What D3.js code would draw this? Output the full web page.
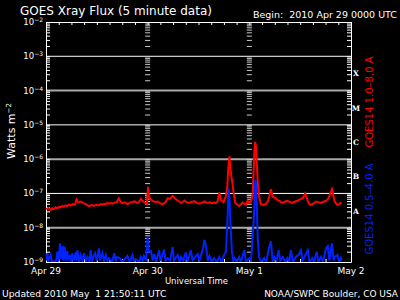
<!DOCTYPE html>
<html>
<head>
<meta charset="utf-8">
<script src="https://cdn.jsdelivr.net/npm/d3@7"></script>
<style>
    body { margin: 0; background: #000; }
    #chart { width: 400px; height: 300px; }
    text { font-family: "DejaVu Sans", "Liberation Sans", sans-serif; white-space: pre; }
</style>
</head>
<body>
<div id="chart"></div>
<script>

// tick labels / categories
const dayLabels = ["Apr 29", "Apr 30", "May 1", "May 2"];
const dayHours = [0, 24, 48, 72];
const decades = [-9, -8, -7, -6, -5, -4, -3, -2];
const flareClasses = [["A", 1e-8], ["B", 1e-7], ["C", 1e-6], ["M", 1e-5], ["X", 1e-4]];

// GOES14 1.0-8.0 A  [hours since Apr 29 00 UT, W/m2]
const longChannel = [
    [0, 3.5e-8], [0.6, 3.8e-8], [1.1, 3.3e-8], [1.5, 3.7e-8], [1.9, 3.5e-8], [2.3, 3.9e-8], [2.7, 3.7e-8],
    [3.1, 4.1e-8], [3.5, 3.9e-8], [3.9, 4.3e-8], [4.2, 4.1e-8], [4.6, 4.5e-8], [5.0, 4.3e-8], [5.4, 4.7e-8],
    [5.8, 4.5e-8], [6.3, 4.9e-8], [6.8, 4.6e-8], [7.2, 6.7e-8], [7.6, 5.5e-8], [8.2, 5.8e-8], [8.8, 5.2e-8],
    [9.4, 4.9e-8], [9.8, 4.5e-8], [10.2, 4.2e-8], [10.7, 4.6e-8], [11.3, 4.4e-8], [12.1, 4.7e-8], [12.5, 4.5e-8],
    [12.9, 4.9e-8], [13.3, 4.7e-8], [13.7, 5.0e-8], [14.1, 4.8e-8], [14.5, 5.3e-8], [14.9, 5.0e-8], [15.3, 5.2e-8],
    [15.7, 5.0e-8], [16.1, 5.4e-8], [16.7, 5.5e-8], [17.2, 7.2e-8], [17.6, 5.8e-8], [18.0, 5.2e-8], [18.6, 5.5e-8],
    [19.2, 4.9e-8], [19.8, 5.3e-8], [20.4, 5.6e-8], [20.9, 5.9e-8], [21.6, 5.2e-8], [22.0, 5.6e-8], [22.4, 6.9e-8],
    [23.1, 5.6e-8], [23.8, 4.9e-8], [24.1, 1.56e-7], [24.4, 7.2e-8], [24.8, 6.6e-8], [25.2, 6.1e-8], [25.8, 5.6e-8],
    [26.4, 5.8e-8], [27.0, 5.1e-8], [27.5, 4.8e-8], [28.2, 5.5e-8], [28.7, 7.2e-8], [29.3, 7.0e-8], [29.9, 8.4e-8],
    [30.5, 7.0e-8], [31.1, 6.2e-8], [31.5, 5.7e-8], [31.9, 5.3e-8], [32.3, 5.7e-8], [32.7, 6.2e-8], [33.2, 5.5e-8],
    [33.8, 5.3e-8], [34.4, 5.7e-8], [35.0, 5.9e-8], [35.6, 5.3e-8], [36.2, 5.0e-8], [36.8, 5.4e-8], [37.4, 5.9e-8],
    [38.0, 5.3e-8], [38.6, 5.5e-8], [39.2, 5.2e-8], [39.7, 5.4e-8], [40.1, 5.2e-8], [40.5, 5.8e-8], [40.9, 1.07e-7],
    [41.3, 6.5e-8], [41.9, 5.5e-8], [42.5, 8.5e-8], [42.8, 1.6e-7], [43.0, 4.7e-7], [43.3, 1.2e-6], [43.5, 5.9e-7],
    [43.7, 3.6e-7], [43.9, 2.5e-7], [44.3, 1.0e-7], [44.7, 5.3e-8], [45.2, 4.6e-8], [45.6, 4.3e-8], [46.0, 4.8e-8],
    [46.4, 5.4e-8], [46.8, 5.0e-8], [47.2, 4.7e-8], [47.6, 6.1e-8], [48.0, 5.4e-8], [48.4, 5.8e-8], [48.8, 9.0e-8],
    [48.9, 2.0e-7], [49.2, 1.8e-6], [49.4, 3.2e-6], [49.6, 2.2e-6], [49.7, 1.15e-6], [50.0, 2.0e-7], [50.3, 8.0e-8],
    [50.7, 4.9e-8], [51.3, 4.6e-8], [51.9, 4.9e-8], [52.4, 6.0e-8], [52.7, 8.0e-8], [53.1, 1.33e-7], [53.5, 8.0e-8],
    [54.3, 7.2e-8], [54.7, 6.4e-8], [55.1, 6.1e-8], [55.5, 5.6e-8], [55.9, 5.3e-8], [56.5, 5.8e-8], [57.0, 6.1e-8],
    [57.6, 5.6e-8], [58.2, 5.3e-8], [58.8, 5.8e-8], [59.4, 6.1e-8], [60.2, 7.0e-8], [60.6, 7.2e-8], [61.2, 1.0e-7],
    [61.8, 6.1e-8], [62.1, 5.0e-8], [62.5, 4.6e-8], [63.1, 5.0e-8], [63.7, 5.8e-8], [64.3, 5.5e-8], [64.9, 5.3e-8],
    [65.5, 5.7e-8], [66.1, 6.1e-8], [66.5, 6.8e-8], [66.9, 8.4e-8], [67.5, 1.33e-7], [68.1, 6.1e-8], [68.5, 5.0e-8],
    [68.8, 4.6e-8], [69.2, 4.8e-8], [69.6, 5.3e-8], [69.8, 5.2e-8]
];

// GOES14 0.5-4.0 A  [hours since Apr 29 00 UT, W/m2]
const shortChannel = [
    [0.0, 1.1e-9], [0.3, 1.8e-9], [0.6, 1.1e-9], [1.1, 1.6e-9], [1.4, 1.0e-9], [2.4, 1.1e-9], [2.7, 2.0e-9],
    [3.0, 1.1e-9], [3.3, 3.5e-9], [3.6, 1.2e-9], [3.9, 2.9e-9], [4.1, 1.1e-9], [4.4, 2.8e-9], [4.7, 1.1e-9],
    [5.0, 2.1e-9], [5.3, 1.1e-9], [5.7, 1.6e-9], [6.0, 1.0e-9], [6.2, 1.8e-9], [6.6, 1.1e-9], [7.0, 1.9e-9],
    [7.2, 1.1e-9], [7.4, 2.2e-9], [7.8, 1.0e-9], [8.2, 1.6e-9], [8.6, 1.1e-9], [9.0, 1.8e-9], [9.4, 1.1e-9],
    [9.8, 1.4e-9], [10.3, 1.0e-9], [10.5, 2.2e-9], [10.9, 1.1e-9], [11.3, 1.5e-9], [11.6, 1.8e-9], [12.0, 1.1e-9],
    [12.5, 2.5e-9], [12.8, 1.1e-9], [13.3, 1.8e-9], [13.7, 1.1e-9], [14.1, 1.6e-9], [14.5, 1.1e-9], [14.9, 1.3e-9],
    [15.6, 1.0e-9], [16.1, 1.8e-9], [16.5, 1.1e-9], [16.8, 1.4e-9], [17.4, 1.3e-9], [18.0, 1.0e-9], [19.2, 1.5e-9],
    [19.8, 1.0e-9], [20.4, 1.6e-9], [20.8, 1.0e-9], [21.2, 1.2e-9], [22.0, 1.0e-9], [22.4, 1.4e-9], [22.8, 1.1e-9],
    [23.1, 1.5e-9], [23.6, 1.1e-9], [24.0, 5.5e-9], [24.3, 2.0e-9], [24.8, 2.1e-9], [25.2, 1.1e-9], [25.6, 1.7e-9],
    [26.0, 1.0e-9], [26.7, 2.2e-9], [27.0, 1.1e-9], [27.9, 2.3e-9], [28.2, 1.1e-9], [28.7, 1.3e-9], [29.3, 1.1e-9],
    [29.9, 2.7e-9], [30.2, 1.1e-9], [31.1, 1.6e-9], [31.6, 1.0e-9], [31.9, 1.4e-9], [32.4, 1.1e-9], [33.0, 1.9e-9],
    [33.4, 1.0e-9], [34.2, 2.2e-9], [34.6, 1.1e-9], [35.8, 1.7e-9], [36.2, 1.1e-9], [37.0, 2.3e-9], [37.4, 4.4e-9],
    [37.8, 2.8e-9], [38.2, 1.1e-9], [38.6, 1.5e-9], [39.2, 1.0e-9], [39.7, 1.3e-9], [40.3, 1.0e-9], [40.9, 1.4e-9],
    [41.5, 1.0e-9], [42.1, 1.7e-9], [42.5, 2.0e-9], [42.9, 2.6e-8], [43.1, 1.4e-7], [43.3, 8.0e-8], [43.5, 1.7e-8],
    [43.9, 1.9e-9], [44.2, 1.1e-9], [44.5, 1.3e-9], [45.0, 1.0e-9], [45.6, 1.4e-9], [46.0, 1.0e-9], [46.8, 2.2e-9],
    [47.2, 1.0e-9], [48.0, 1.3e-9], [48.4, 1.1e-9], [48.8, 5.5e-9], [49.2, 4.0e-8], [49.4, 2.5e-7], [49.6, 1.8e-7],
    [49.7, 8.0e-8], [50.0, 4.4e-9], [50.3, 1.4e-9], [50.8, 1.0e-9], [51.5, 1.3e-9], [52.0, 1.0e-9], [52.7, 2.8e-9],
    [53.1, 4.0e-9], [53.5, 1.1e-9], [53.9, 1.4e-9], [54.4, 1.1e-9], [54.9, 2.2e-9], [55.3, 1.1e-9], [55.9, 1.4e-9],
    [56.5, 1.0e-9], [57.0, 1.3e-9], [57.4, 1.0e-9], [57.8, 2.2e-9], [58.3, 1.0e-9], [59.0, 1.4e-9], [59.8, 1.7e-9],
    [60.2, 2.2e-9], [60.6, 1.1e-9], [61.0, 1.4e-9], [61.8, 2.2e-9], [62.2, 1.0e-9], [62.9, 1.3e-9], [63.3, 1.0e-9],
    [63.9, 2.0e-9], [64.3, 1.0e-9], [64.9, 1.4e-9], [65.4, 1.0e-9], [66.1, 2.5e-9], [66.5, 2.9e-9], [66.9, 1.1e-9],
    [67.5, 3.5e-9], [67.9, 1.1e-9], [68.1, 1.4e-9], [68.8, 1.6e-9], [69.2, 1.0e-9], [69.6, 1.3e-9], [69.8, 1.1e-9]
];


class XrayFlux {

    constructor(parentElement) {
        this.parentElement = parentElement;
        this.initVis();
    }

    initVis() {
        let vis = this;

        vis.margin = {top: 22, right: 49, bottom: 38, left: 46};
        vis.width = 400 - vis.margin.left - vis.margin.right;
        vis.height = 300 - vis.margin.top - vis.margin.bottom;

        vis.root = d3.select("#" + vis.parentElement).append("svg")
            .attr("width", 400)
            .attr("height", 300)
            .style("background", "#000");

        vis.svg = vis.root.append("g")
            .attr("transform", `translate(${vis.margin.left},${vis.margin.top})`);

        // scales: hours since start, log flux
        vis.x = d3.scaleLinear().domain([0, 72]).range([0, vis.width]);
        vis.y = d3.scaleLog().domain([1e-9, 1e-2]).range([vis.height, 0]);

        vis.svg.append("clipPath").attr("id", "plot-clip")
            .append("rect").attr("width", vis.width).attr("height", vis.height);

        vis.updateVis();
    }

    updateVis() {
        let vis = this;

        // minor log ticks 1..9 in each decade
        let minor = [];
        decades.slice(0, -1).forEach(d => d3.range(1, 10).forEach(m => minor.push(m * Math.pow(10, d))));
        minor.push(1e-2);

        // horizontal decade lines, alternating white / gray
        vis.svg.selectAll(".decade-line")
            .data(decades.slice(1, -1))
            .enter().append("line")
            .attr("class", "decade-line")
            .attr("x1", 0).attr("x2", vis.width)
            .attr("y1", d => vis.y(Math.pow(10, d)))
            .attr("y2", d => vis.y(Math.pow(10, d)))
            .attr("stroke", d => d % 2 === 0 ? "#a8a8a8" : "#ffffff")
            .attr("stroke-width", d => d % 2 === 0 ? 2 : 1);

        // tick columns at the day boundaries
        dayHours.slice(1, -1).forEach(h => {
            vis.svg.append("g")
                .attr("transform", `translate(${vis.x(h) - 2.5},0)`)
                .call(d3.axisRight(vis.y).tickValues(minor).tickSize(5).tickFormat(""))
                .call(g => g.select(".domain").remove())
                .selectAll("line").attr("stroke", "#cccccc");
        });

        // frame axes
        let axisStyle = g => {
            g.selectAll("path, line").attr("stroke", "#ffffff");
            g.selectAll("text").remove();
        };
        let hourTicks = d3.range(0, 73, 3);

        vis.svg.append("g")
            .call(d3.axisLeft(vis.y).tickValues(minor).tickSizeInner(-4).tickSizeOuter(0))
            .call(axisStyle);
        vis.svg.append("g")
            .attr("transform", `translate(${vis.width},0)`)
            .call(d3.axisRight(vis.y).tickValues(minor).tickSizeInner(-4).tickSizeOuter(0))
            .call(axisStyle);
        vis.svg.append("g")
            .call(d3.axisBottom(vis.x).tickValues(hourTicks).tickSizeInner(3).tickSizeOuter(0))
            .call(axisStyle);
        vis.svg.append("g")
            .attr("transform", `translate(0,${vis.height})`)
            .call(d3.axisTop(vis.x).tickValues(hourTicks).tickSizeInner(3).tickSizeOuter(0))
            .call(axisStyle);

        // data lines
        let line = d3.line()
            .x(d => vis.x(d[0]))
            .y(d => vis.y(d[1]));

        let plot = vis.svg.append("g").attr("clip-path", "url(#plot-clip)");

        plot.append("path")
            .datum(longChannel)
            .attr("fill", "none")
            .attr("stroke", "#ff0000")
            .attr("stroke-width", 2)
            .attr("d", line);

        plot.append("path")
            .datum(shortChannel)
            .attr("fill", "none")
            .attr("stroke", "#0022ff")
            .attr("stroke-width", 2)
            .attr("d", line);

        // y tick labels 10^n
        let yLab = vis.svg.selectAll(".ylab")
            .data(decades)
            .enter().append("text")
            .attr("class", "ylab")
            .attr("x", -3)
            .attr("y", d => vis.y(Math.pow(10, d)) + 3)
            .attr("text-anchor", "end")
            .attr("fill", "#ffffff")
            .style("font-size", "8.5px");
        yLab.append("tspan").text("10");
        yLab.append("tspan").attr("dy", -3).style("font-size", "6px").text(d => "\u2212" + (-d));

        // flare class letters
        vis.svg.selectAll(".flare")
            .data(flareClasses)
            .enter().append("text")
            .attr("class", "flare")
            .attr("x", vis.width + 5)
            .attr("y", d => vis.y(d[1] * Math.sqrt(10)) + 3)
            .attr("text-anchor", "middle")
            .attr("fill", "#ffffff")
            .style("font-family", "'DejaVu Serif', serif")
            .style("font-weight", "bold")
            .style("font-size", "7.5px")
            .text(d => d[0]);

        // day labels
        vis.svg.selectAll(".day")
            .data(dayHours)
            .enter().append("text")
            .attr("class", "day")
            .attr("x", d => vis.x(d))
            .attr("y", vis.height + 11.5)
            .attr("text-anchor", "middle")
            .attr("fill", "#ffffff")
            .style("font-size", "9px")
            .text((d, i) => dayLabels[i]);

        vis.svg.append("text")
            .attr("x", vis.width / 2 - 2)
            .attr("y", vis.height + 22)
            .attr("text-anchor", "middle")
            .attr("fill", "#ffffff")
            .style("font-size", "8.5px")
            .text("Universal Time");

        // channel labels on the right
        let chan = [["GOES14 1.0\u20138.0 A", "#ff0000", 102], ["GOES14 0.5\u20134.0 A", "#0022ff", 209]];
        vis.root.selectAll(".chan")
            .data(chan)
            .enter().append("text")
            .attr("class", "chan")
            .attr("transform", d => `translate(373,${d[2]}) rotate(-90)`)
            .attr("text-anchor", "middle")
            .attr("fill", d => d[1])
            .style("font-size", "10px")
            .text(d => d[0]);

        // y axis title
        let yt = vis.root.append("text")
            .attr("transform", "translate(15,131) rotate(-90)")
            .attr("text-anchor", "middle")
            .attr("fill", "#ffffff")
            .style("font-size", "11px");
        yt.append("tspan").text("Watts m");
        yt.append("tspan").attr("dy", -4).style("font-size", "7px").text("\u22122");

        // header and footer
        vis.root.append("text")
            .attr("x", 20).attr("y", 14.5)
            .attr("fill", "#ffffff")
            .style("font-size", "12px")
            .text("GOES Xray Flux (5 minute data)");

        vis.root.append("text")
            .attr("x", 397).attr("y", 17.5)
            .attr("text-anchor", "end")
            .attr("fill", "#ffffff")
            .style("font-size", "9.5px")
            .text("Begin:  2010 Apr 29 0000 UTC");

        vis.root.append("text")
            .attr("x", 2).attr("y", 297)
            .attr("fill", "#ffffff")
            .style("font-size", "9.2px")
            .text("Updated 2010 May  1 21:50:11 UTC");

        vis.root.append("text")
            .attr("x", 398).attr("y", 297)
            .attr("text-anchor", "end")
            .attr("fill", "#ffffff")
            .style("font-size", "9px")
            .text("NOAA/SWPC Boulder, CO USA");
    }
}

new XrayFlux("chart");

</script>
</body>
</html>
